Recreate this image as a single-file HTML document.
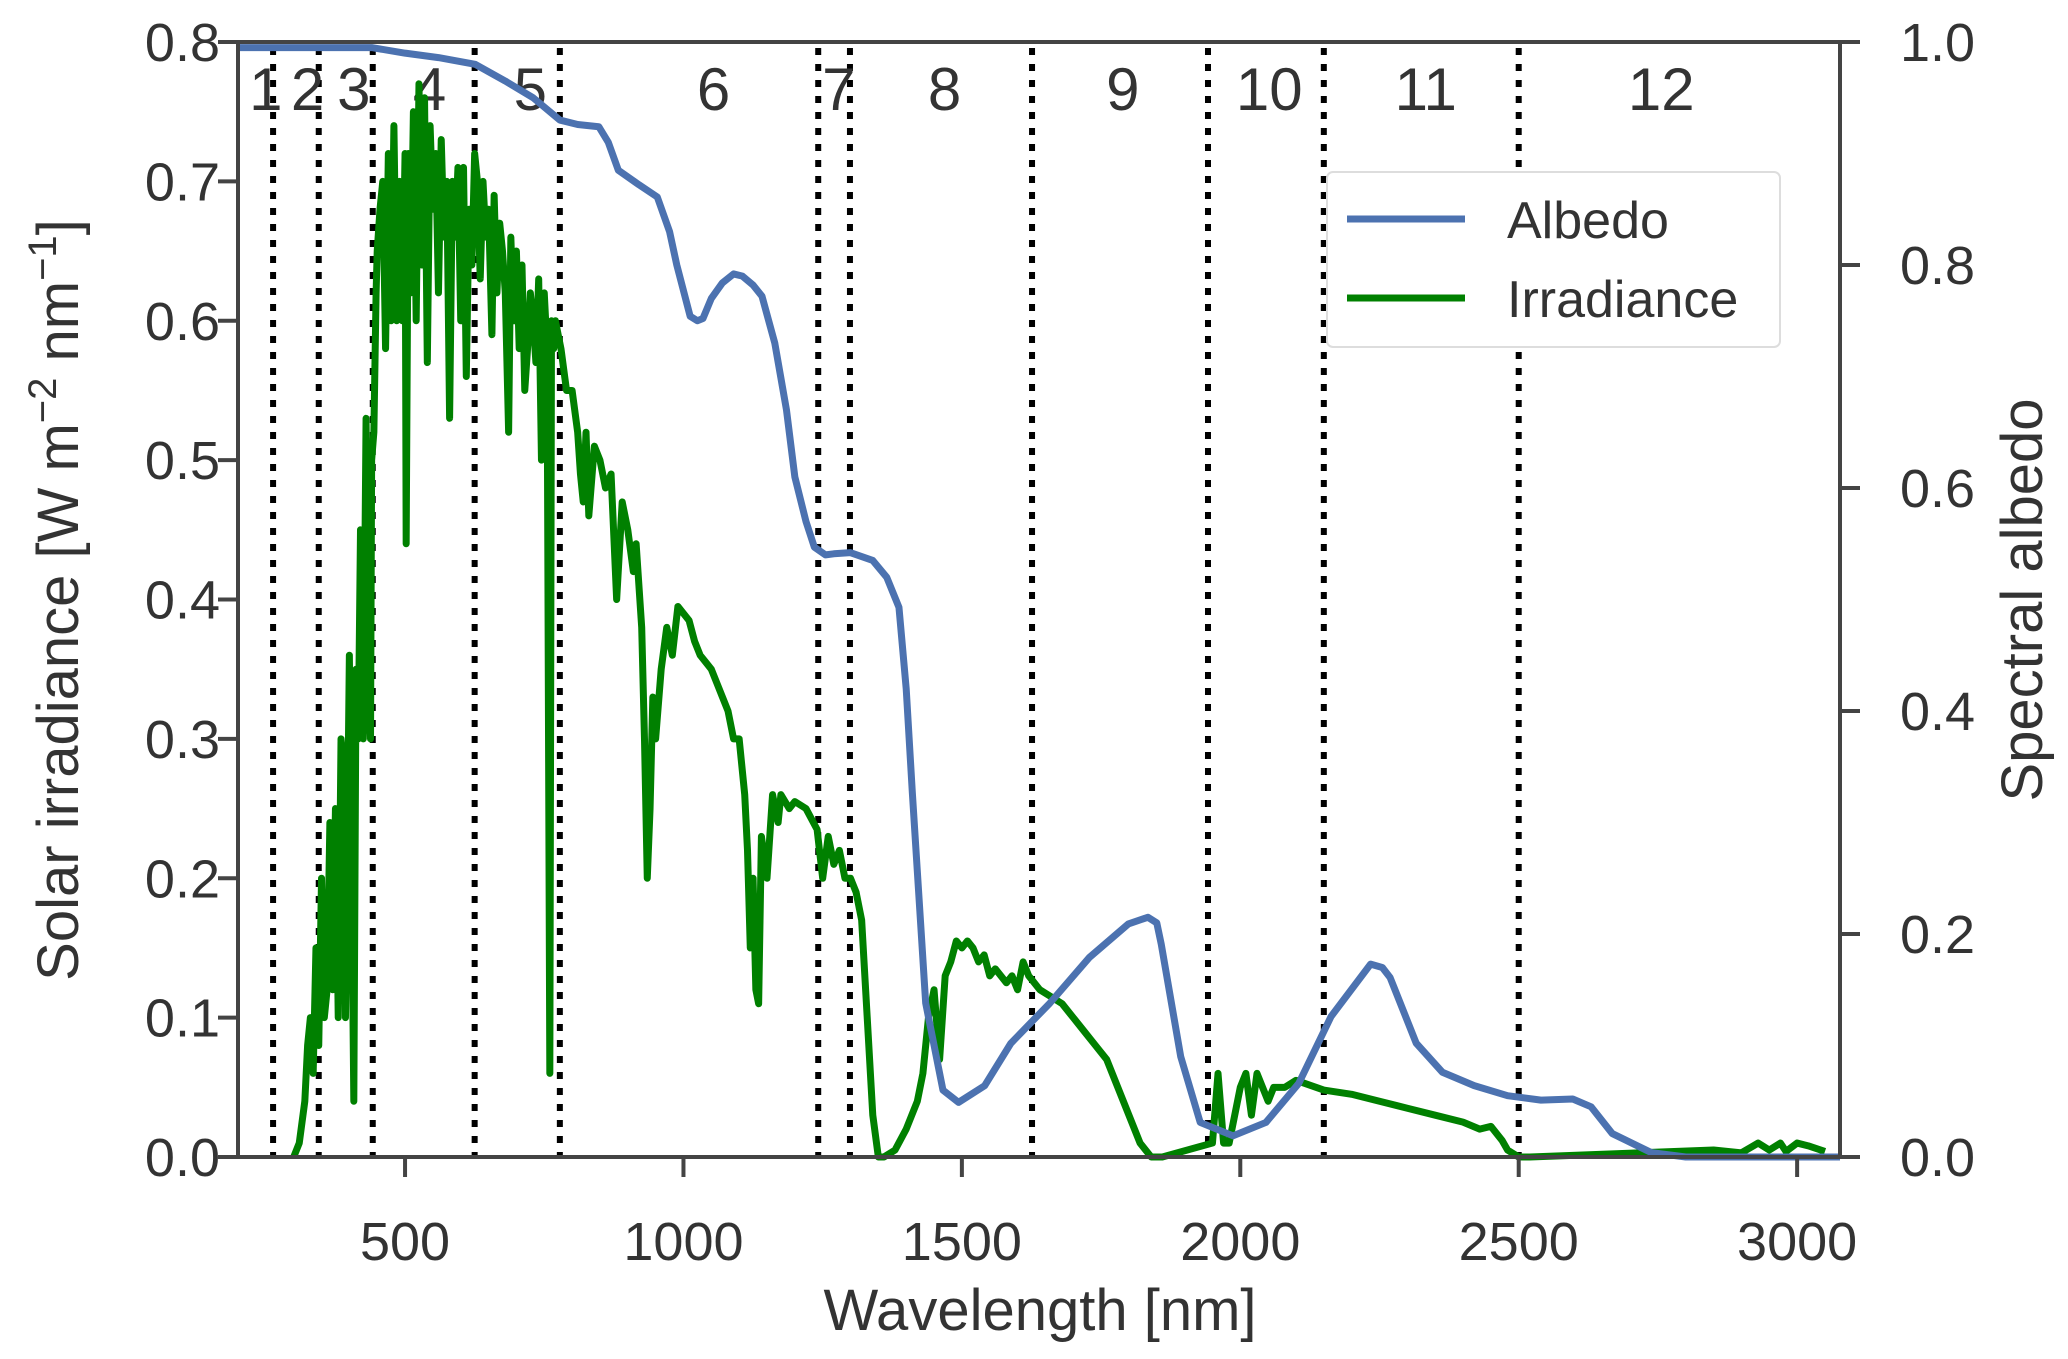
<!DOCTYPE html>
<html><head><meta charset="utf-8"><style>
html,body{margin:0;padding:0;background:#fff;}
svg{display:block;font-family:"Liberation Sans",Arial,sans-serif;}
</style></head><body>
<svg id="chart" width="2068" height="1359" viewBox="0 0 2068 1359">
<g id="bands"></g>
<g id="bandLabels"></g>
<g id="series"></g>
<g id="axes"></g>
<text x="1040" y="1330" font-size="58" fill="#333" text-anchor="middle">Wavelength [nm]</text>
<text transform="translate(78,600) rotate(-90)" font-size="58" fill="#333" text-anchor="middle">Solar irradiance [W m<tspan dy="-22" font-size="40">−2</tspan><tspan dy="22"> nm</tspan><tspan dy="-22" font-size="40">−1</tspan><tspan dy="22">]</tspan></text>
<text transform="translate(2042,600) rotate(-90)" font-size="58" fill="#333" text-anchor="middle">Spectral albedo</text>
<g>
<rect x="1327" y="172" width="453" height="175" rx="6" fill="#fff" stroke="#ddd" stroke-width="2"/>
<line x1="1347" y1="219" x2="1465" y2="219" stroke="#4c72b0" stroke-width="7"/>
<text x="1507" y="238" font-size="52" fill="#333">Albedo</text>
<line x1="1347" y1="298" x2="1465" y2="298" stroke="#008000" stroke-width="7"/>
<text x="1507" y="317" font-size="52" fill="#333">Irradiance</text>
</g>
</svg>
<script>
const bandEdges=[263,345,442,625,778,1242,1299,1626,1942,2150,2500];
const bandNames=["1","2","3","4","5","6","7","8","9","10","11","12"];
const bandLabelNm=[250,325,408,544,725,1054,1279,1469,1789,2052,2333,2756];
const xTicks=[500,1000,1500,2000,2500,3000];
const yLeftTicks=[0,0.1,0.2,0.3,0.4,0.5,0.6,0.7,0.8];
const yRightTicks=[0,0.2,0.4,0.6,0.8,1.0];
const albedoNm=[200,440,500,560,626,680,730,778,810,848,865,883,920,953,975,988,1012,1025,1035,1050,1070,1090,1106,1125,1141,1164,1185,1200,1220,1235,1255,1270,1300,1340,1365,1387,1400,1411,1435,1466,1494,1541,1588,1658,1729,1799,1834,1850,1858,1893,1928,1987,2046,2105,2163,2234,2255,2269,2316,2363,2420,2480,2540,2597,2630,2668,2738,2800,3077];
const albedoVal=[0.995,0.995,0.99,0.986,0.98,0.965,0.95,0.93,0.926,0.924,0.91,0.885,0.872,0.861,0.83,0.80,0.754,0.75,0.752,0.77,0.784,0.792,0.79,0.782,0.772,0.73,0.67,0.61,0.57,0.547,0.54,0.541,0.542,0.535,0.52,0.493,0.42,0.327,0.138,0.06,0.049,0.064,0.102,0.138,0.179,0.209,0.215,0.21,0.191,0.09,0.031,0.019,0.031,0.066,0.126,0.173,0.17,0.161,0.102,0.076,0.064,0.055,0.051,0.052,0.045,0.021,0.004,0.0,0.0];
const irrNm=[300,310,320,325,330,335,340,345,350,355,360,365,370,375,380,385,390,393,400,404,408,412,416,420,425,430,434,438,440,444,448,450,455,460,465,470,475,480,485,490,495,500,502,506,510,515,520,525,530,535,540,545,550,555,560,565,570,575,580,585,590,595,600,605,610,615,620,625,630,635,640,645,650,656,660,665,670,675,680,686,690,695,700,705,710,715,720,725,730,735,740,745,750,755,760,763,767,770,780,790,800,810,815,820,825,830,840,850,860,870,880,890,900,910,915,925,930,935,940,945,950,960,970,980,990,1000,1010,1020,1030,1040,1050,1060,1070,1080,1090,1100,1110,1115,1120,1125,1130,1135,1140,1150,1160,1170,1175,1190,1200,1220,1240,1250,1260,1270,1280,1290,1300,1310,1320,1330,1340,1350,1360,1380,1400,1420,1430,1440,1450,1460,1470,1480,1490,1500,1510,1520,1530,1540,1550,1560,1570,1580,1590,1600,1610,1620,1640,1660,1680,1700,1720,1740,1760,1780,1800,1820,1840,1860,1950,1960,1970,1980,2000,2010,2020,2030,2040,2050,2060,2080,2100,2150,2200,2250,2300,2350,2400,2430,2450,2470,2480,2500,2520,2850,2900,2930,2950,2970,2980,3000,3020,3050,3077];
const irrVal=[0,0.01,0.04,0.08,0.1,0.06,0.15,0.08,0.2,0.1,0.12,0.24,0.12,0.25,0.1,0.3,0.28,0.1,0.36,0.2,0.04,0.35,0.3,0.45,0.3,0.53,0.35,0.3,0.5,0.52,0.62,0.65,0.68,0.7,0.58,0.72,0.6,0.74,0.6,0.7,0.6,0.72,0.44,0.72,0.62,0.75,0.6,0.77,0.64,0.76,0.57,0.74,0.68,0.72,0.62,0.73,0.66,0.7,0.53,0.7,0.66,0.71,0.6,0.71,0.56,0.68,0.64,0.72,0.7,0.63,0.7,0.66,0.68,0.59,0.69,0.62,0.67,0.65,0.62,0.52,0.66,0.6,0.65,0.58,0.64,0.55,0.58,0.62,0.6,0.57,0.63,0.5,0.62,0.58,0.06,0.6,0.58,0.6,0.58,0.55,0.55,0.52,0.49,0.47,0.52,0.46,0.51,0.5,0.48,0.49,0.4,0.47,0.45,0.42,0.44,0.38,0.3,0.2,0.25,0.33,0.3,0.35,0.38,0.36,0.395,0.39,0.385,0.37,0.36,0.355,0.35,0.34,0.33,0.32,0.3,0.3,0.26,0.22,0.15,0.2,0.12,0.11,0.23,0.2,0.26,0.24,0.26,0.25,0.255,0.25,0.235,0.2,0.23,0.21,0.22,0.2,0.2,0.19,0.17,0.1,0.03,0.0,0.0,0.005,0.02,0.04,0.06,0.1,0.12,0.07,0.13,0.14,0.155,0.15,0.155,0.15,0.14,0.145,0.13,0.135,0.13,0.125,0.13,0.12,0.14,0.13,0.12,0.115,0.11,0.1,0.09,0.08,0.07,0.05,0.03,0.01,0,0,0.01,0.06,0.01,0.01,0.05,0.06,0.03,0.06,0.05,0.04,0.05,0.05,0.055,0.048,0.045,0.04,0.035,0.03,0.025,0.02,0.022,0.012,0.005,0,0,0.005,0.003,0.01,0.005,0.01,0.004,0.01,0.008,0.004];

const L=238,R=1840,T=42,B=1157,X0=200,X1=3077;
const xs=v=>L+(v-X0)/(X1-X0)*(R-L);
const yl=v=>B-v/0.8*(B-T);
const yr=v=>B-v/1.0*(B-T);
const NS="http://www.w3.org/2000/svg";
function mk(tag,attrs,parent){const e=document.createElementNS(NS,tag);for(const k in attrs)e.setAttribute(k,attrs[k]);parent.appendChild(e);return e;}
const bands=document.getElementById('bands'),bl=document.getElementById('bandLabels'),ser=document.getElementById('series'),ax=document.getElementById('axes');

bandEdges.forEach(b=>{
  const l=mk('line',{x1:xs(b),x2:xs(b),y1:T+6,y2:B,stroke:'#000','stroke-width':6,'stroke-dasharray':'7 9'},bands);
  
  
});
bandNames.forEach((n,i)=>{
  const t=mk('text',{x:xs(bandLabelNm[i]),y:110,'font-size':60,fill:'#333','text-anchor':'middle'},bl);
  t.textContent=n;
  
  
});

const irrPath=mk('polyline',{points:irrNm.map((n,i)=>xs(n)+','+yl(irrVal[i])).join(' '),fill:'none',stroke:'#008000','stroke-width':7,'stroke-linejoin':'round'},ser);


const albPath=mk('polyline',{points:albedoNm.map((n,i)=>xs(n)+','+yr(albedoVal[i])).join(' '),fill:'none',stroke:'#4c72b0','stroke-width':7,'stroke-linejoin':'round'},ser);



const frame=mk('rect',{x:L,y:T,width:R-L,height:B-T,fill:'none',stroke:'#444','stroke-width':4},ax);


xTicks.forEach(v=>{
  const tl=mk('line',{x1:xs(v),x2:xs(v),y1:B,y2:B+20,stroke:'#444','stroke-width':4},ax);
  
  
  const t=mk('text',{x:xs(v),y:1260,'font-size':54,fill:'#333','text-anchor':'middle'},ax);
  t.textContent=v;
  
  
});
yLeftTicks.forEach(v=>{
  const tl=mk('line',{x1:L-20,x2:L,y1:yl(v),y2:yl(v),stroke:'#444','stroke-width':4},ax);
  
  
  const t=mk('text',{x:220,y:yl(v)+19,'font-size':54,fill:'#333','text-anchor':'end'},ax);
  t.textContent=v.toFixed(1);
  
  
});
yRightTicks.forEach(v=>{
  const tl=mk('line',{x1:R,x2:R+20,y1:yr(v),y2:yr(v),stroke:'#444','stroke-width':4},ax);
  
  
  const t=mk('text',{x:1900,y:yr(v)+19,'font-size':54,fill:'#333','text-anchor':'start'},ax);
  t.textContent=v.toFixed(1);
  
  
});
</script>
</body></html>
